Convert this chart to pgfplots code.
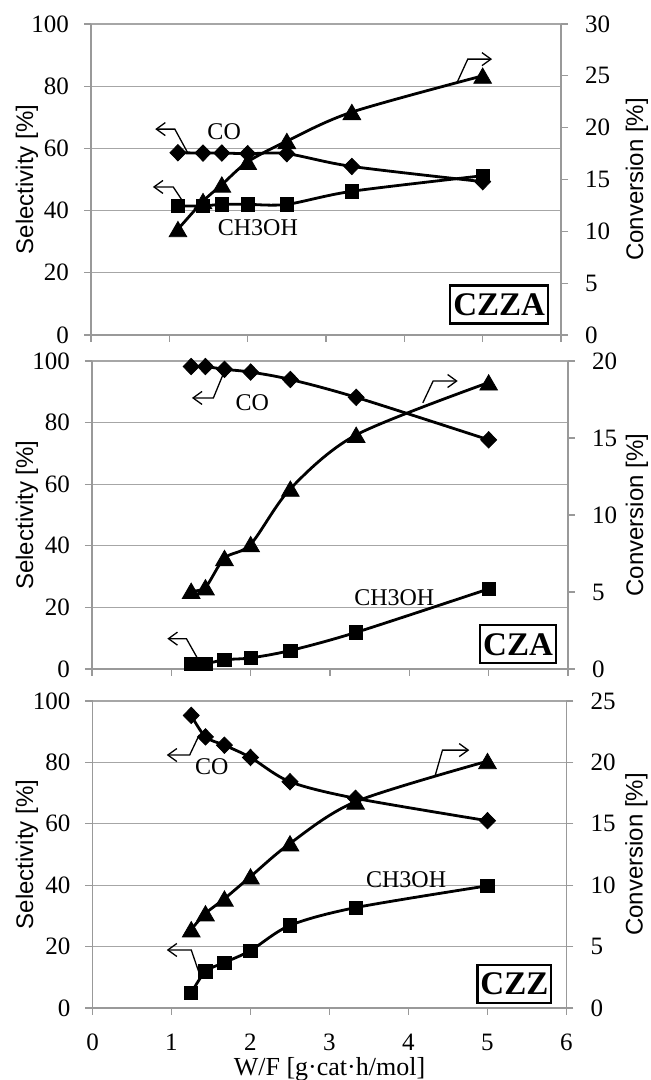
\documentclass[border=0pt]{standalone}
\usepackage{pgfplots}
\pgfplotsset{compat=1.18}
\usepackage{pgfplotstable}
\usepackage{fontspec}
\setmainfont{Liberation Serif}
\setsansfont{Liberation Sans}
\usetikzlibrary{arrows.meta}

% x = W/F, co/me = selectivity CO / CH3OH, cv = conversion
\pgfplotstableread{
x     co    me    cv
1.11  58.6  41.5  10.2
1.43  58.5  41.5  12.9
1.67  58.5  42.0  14.5
2.00  58.3  42.0  16.7
2.50  58.3  42.0  18.7
3.33  54.2  46.2  21.5
5.00  49.3  51.2  25.0
}\czza
\pgfplotstableread{
x     co    me    cv
1.25  98.2  1.7   5.07
1.43  98.2  1.7   5.3
1.67  97.3  3.0   7.2
2.00  96.4  3.6   8.1
2.50  94.0  6.0   11.7
3.33  88.2  11.9  15.2
5.00  74.4  26.0  18.6
}\cza
\pgfplotstableread{
x     co    me    cv
1.25  95.3  4.9   6.4
1.43  88.3  11.9  7.7
1.67  85.6  14.8  8.9
2.00  81.6  18.7  10.7
2.50  73.7  26.9  13.4
3.33  68.3  32.7  16.8
5.00  61.0  39.8  20.1
}\czz

\pgfplotsset{
  base/.style={scale only axis, clip=false,
    xmin=0, xmax=6, xtick={0,1,...,6},
    tick align=outside, major tick length=3.5pt,
    every tick/.style={black!40, line width=0.6pt},
    axis line style={black!40, line width=0.6pt},
    tick label style={font=\fontsize{12.5}{14}\selectfont},
    xticklabel style={yshift=-6pt},
    /pgf/number format/assume math mode=true},
  sel/.style={base, axis y line*=left, axis x line*=bottom,
    ymin=0, ymax=100, ytick distance=20,
    yticklabel style={xshift=-4pt},
    ymajorgrids, grid style={black!35, line width=0.6pt},
    ylabel={Selectivity [\%]},
    ylabel style={font=\sffamily\fontsize{12}{14}\selectfont, anchor=center}},
  conv/.style={base, axis y line*=right, axis x line=none,
    ymin=0, ytick distance=5,
    yticklabel style={xshift=5pt},
    ylabel={Conversion [\%]},
    ylabel style={font=\sffamily\fontsize{12}{14}\selectfont, anchor=center}},
  co/.style={black, line width=1.4pt, smooth,
    mark=diamond*, mark size=4.1pt, mark options={xscale=1.3, line width=0.4pt}},
  me/.style={black, line width=1.4pt, smooth,
    mark=square*, mark size=3.3pt, mark options={line width=0.4pt}},
  cv/.style={black, line width=1.4pt, smooth,
    mark=triangle*, mark size=5.1pt, mark options={yshift=-1.2pt, line width=0.4pt}},
}
\tikzset{
  arr/.style={line width=0.65pt, -{Straight Barb[length=4.5pt,width=6.5pt]}},
  note/.style={font=\fontsize{12}{14}\selectfont},
  box/.style={draw, line width=1.1pt, inner xsep=1.5pt, minimum height=19pt,
    font=\bfseries\fontsize{16.5}{18}\selectfont},
}

\begin{document}
\begin{tikzpicture}
\path[use as bounding box] (0,0) rectangle (325.5pt,540pt);

% ---- CZZA ----
\begin{axis}[sel, width=235pt, height=155.5pt, at={(45.5pt,372.5pt)}, anchor=south west, xticklabels={},
  ylabel style={at={([xshift=-32pt]axis description cs:0,0.5)}}]
\addplot[co] table[x=x, y=co] {\czza};
\addplot[me] table[x=x, y=me] {\czza};
\node[note] at (axis cs:1.70,65.3) {CO};
\node[note] at (axis cs:2.13,34.4) {CH3OH};
\draw[arr] (axis cs:1.23,58.8) -- (axis cs:1.07,66.2) -- (axis cs:0.82,66.2);
\draw[arr] (axis cs:1.16,43.4) -- (axis cs:1.05,47.6) -- (axis cs:0.79,47.6);
\draw[arr] (axis cs:4.67,81) -- (axis cs:4.81,88.7) -- (axis cs:5.12,88.7);
\node[box] at (axis cs:5.21,9.8) {CZZA};
\end{axis}
\begin{axis}[conv, width=235pt, height=155.5pt, at={(45.5pt,372.5pt)}, anchor=south west, ymax=30,
  ylabel style={at={([xshift=38pt]axis description cs:1,0.5)}}]
\addplot[cv] table[x=x, y=cv] {\czza};
\end{axis}

% ---- CZA ----
\begin{axis}[sel, width=238pt, height=154pt, at={(46pt,205.5pt)}, anchor=south west, xticklabels={},
  ylabel style={at={([xshift=-32.5pt]axis description cs:0,0.5)}}]
\addplot[co] table[x=x, y=co] {\cza};
\addplot[me] table[x=x, y=me] {\cza};
\node[note] at (axis cs:2.02,86.4) {CO};
\node[note] at (axis cs:3.81,23) {CH3OH};
\draw[arr] (axis cs:1.65,95.5) -- (axis cs:1.53,88.0) -- (axis cs:1.26,88.0);
\draw[arr] (axis cs:1.34,3.0) -- (axis cs:1.19,9.85) -- (axis cs:0.95,9.85);
\draw[arr] (axis cs:4.17,86.4) -- (axis cs:4.30,93.5) -- (axis cs:4.61,93.5);
\node[box] at (axis cs:5.37,8.0) {CZA};
\end{axis}
\begin{axis}[conv, width=238pt, height=154pt, at={(46pt,205.5pt)}, anchor=south west, ymax=20,
  ylabel style={at={([xshift=34.5pt]axis description cs:1,0.5)}}]
\addplot[cv] table[x=x, y=cv] {\cza};
\end{axis}

% ---- CZZ ----
\begin{axis}[sel, width=237pt, height=153.5pt, at={(46.25pt,36pt)}, anchor=south west,
  ylabel style={at={([xshift=-32.75pt]axis description cs:0,0.5)}},
  xlabel={W/F [g·cat·h/mol]},
  xlabel style={font=\fontsize{13}{15}\selectfont, at={(axis description cs:0.5,-0.2)}, anchor=center}]
\addplot[co] table[x=x, y=co] {\czz};
\addplot[me] table[x=x, y=me] {\czz};
\node[note] at (axis cs:1.51,78.5) {CO};
\node[note] at (axis cs:3.97,41.7) {CH3OH};
\draw[arr] (axis cs:1.35,88.9) -- (axis cs:1.23,82.4) -- (axis cs:0.94,82.4);
\draw[arr] (axis cs:1.35,11.4) -- (axis cs:1.25,18.9) -- (axis cs:0.94,18.9);
\draw[arr] (axis cs:4.34,75.9) -- (axis cs:4.43,84) -- (axis cs:4.77,84);
\node[box] at (axis cs:5.34,7.8) {CZZ};
\end{axis}
\begin{axis}[conv, width=237pt, height=153.5pt, at={(46.25pt,36pt)}, anchor=south west, ymax=25,
  ylabel style={at={([xshift=35pt]axis description cs:1,0.5)}}]
\addplot[cv] table[x=x, y=cv] {\czz};
\end{axis}
\end{tikzpicture}
\end{document}
